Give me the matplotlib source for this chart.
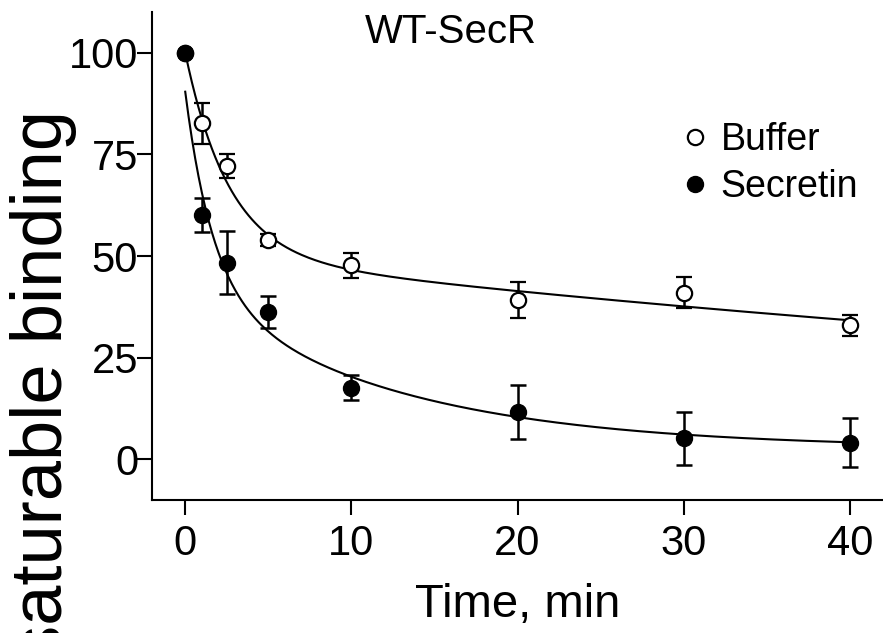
import numpy as np
import matplotlib
matplotlib.use("Agg")
import matplotlib.pyplot as plt
from matplotlib.lines import Line2D

plt.rcParams['font.family'] = ['Liberation Sans', 'DejaVu Sans']

# Sampling times (min)
time_min = [0, 1, 2.5, 5, 10, 20, 30, 40]

# Buffer: mean and SEM (% saturable binding)
buffer_mean = [100, 82.6, 72.2, 54.0, 47.7, 39.1, 41.0, 33.0]
buffer_err = [0, 5.1, 2.9, 1.5, 3.1, 4.4, 3.8, 2.6]

# Secretin: mean and SEM
secretin_mean = [100, 60.0, 48.4, 36.2, 17.6, 11.6, 5.2, 4.1]
secretin_err = [0, 4.2, 7.8, 3.9, 3.1, 6.6, 6.5, 6.0]

# Two-phase exponential decay fits: a1, k1, a2, k2, plateau
buffer_fit = [50.0, 0.38, 50.0, 0.0095, 0.0]
secretin_fit = [48.0, 0.60, 39.7, 0.082, 2.7]


def two_phase_decay(t, a1, k1, a2, k2, c):
    return a1 * np.exp(-k1 * t) + a2 * np.exp(-k2 * t) + c


fig = plt.figure(figsize=(8.83, 6.33), dpi=100)
ax = fig.add_axes([152 / 883, 133 / 633, 731 / 883, 488 / 633])

t_fit = np.linspace(0, 40, 400)
ax.plot(t_fit, two_phase_decay(t_fit, *buffer_fit), color='black', lw=1.5, zorder=2)
ax.plot(t_fit, two_phase_decay(t_fit, *secretin_fit), color='black', lw=1.5, zorder=2)

ax.errorbar(time_min, buffer_mean, yerr=buffer_err, fmt='o', ms=11,
            mfc='white', mec='black', mew=1.6, ecolor='black', elinewidth=1.8,
            capsize=6, capthick=1.8, zorder=3)
ax.errorbar(time_min, secretin_mean, yerr=secretin_err, fmt='o', ms=11.5,
            mfc='black', mec='black', ecolor='black', elinewidth=1.8,
            capsize=6, capthick=1.8, zorder=4)

ax.set_xlim(-2, 42)
ax.set_ylim(-10, 110)
ax.set_xticks([0, 10, 20, 30, 40])
ax.set_yticks([0, 25, 50, 75, 100])

for side in ['top', 'right']:
    ax.spines[side].set_visible(False)
for side in ['left', 'bottom']:
    ax.spines[side].set_linewidth(1.5)

ax.tick_params(axis='both', direction='out', length=11, width=1.5, labelsize=30)
ax.tick_params(axis='y', pad=-1)
ax.tick_params(axis='x', pad=6)

ax.set_xlabel('Time, min', fontsize=34, labelpad=14)

# y label runs past the lower figure edge
fig.text(44 / 883, 1 - 110 / 633, 'saturable binding', rotation=90,
         ha='center', va='top', fontsize=52)
fig.text(451 / 883, 1 - 43 / 633, 'WT-SecR', ha='center', va='baseline', fontsize=29)

handles = [
    Line2D([], [], ls='none', marker='o', ms=11, mfc='white', mec='black', mew=1.6),
    Line2D([], [], ls='none', marker='o', ms=11.5, mfc='black', mec='black'),
]
ax.legend(handles, ['Buffer', 'Secretin'], loc='upper left',
          bbox_to_anchor=(684 / 883, 1 - 122 / 633), bbox_transform=fig.transFigure,
          frameon=False, fontsize=27, handlelength=0.6, handletextpad=0.38,
          labelspacing=0.3, borderpad=0, borderaxespad=0)

fig.savefig('out.png', dpi=100)
